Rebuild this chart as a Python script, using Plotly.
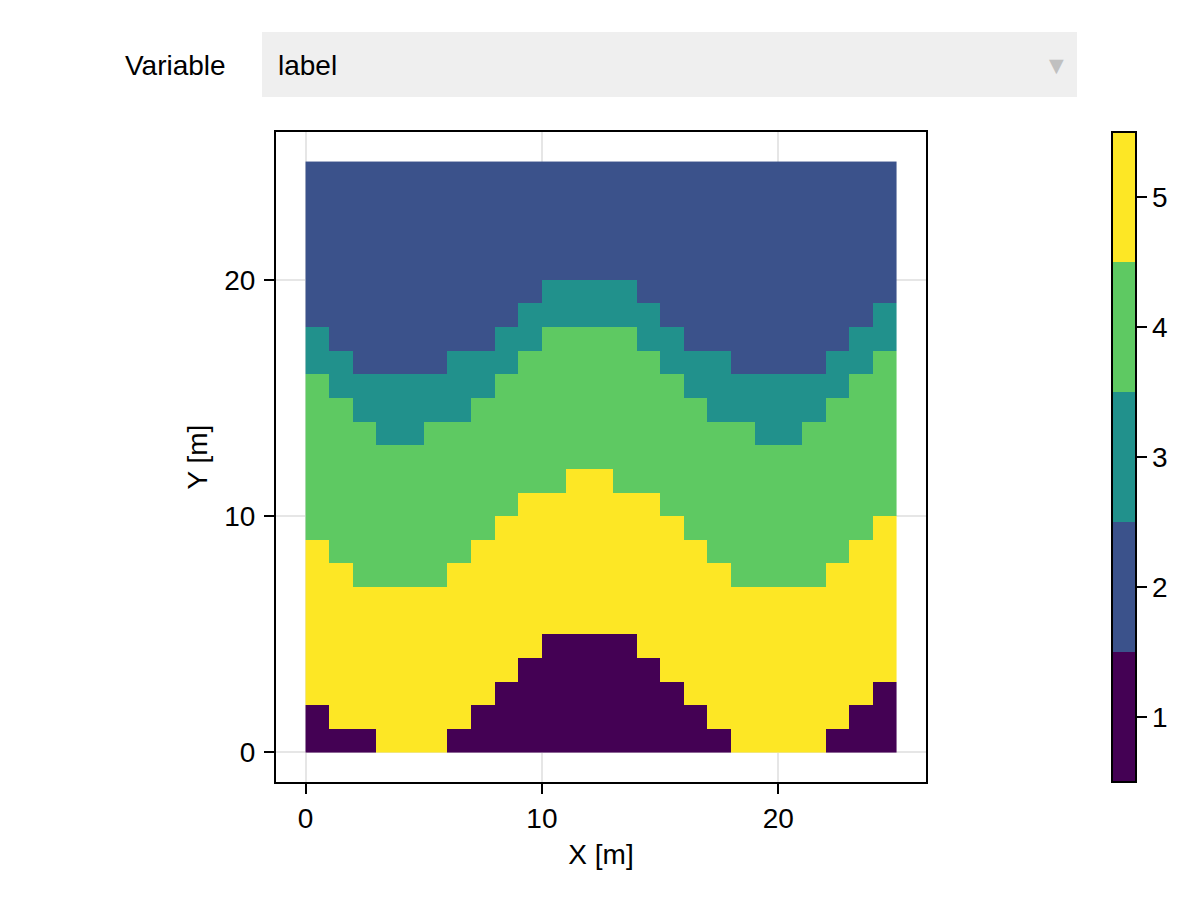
#!/usr/bin/python3

import plotly.graph_objects as go

# top edge of each label band, per column (bands stack upward, last band runs to y_max)
top_label1 = [2, 1, 1, 0, 0, 0, 1, 2, 3, 4, 5, 5, 5, 5, 4, 3, 2, 1, 0, 0, 0, 0, 1, 2, 3]
top_label5 = [9, 8, 7, 7, 7, 7, 8, 9, 10, 11, 11, 12, 12, 11, 11, 10, 9, 8, 7, 7, 7, 7, 8, 9, 10]
top_label4 = [16, 15, 14, 13, 13, 14, 14, 15, 16, 17, 18, 18, 18, 18, 17, 16, 15, 14, 14, 13, 13, 14, 15, 16, 17]
top_label3 = [18, 17, 16, 16, 16, 16, 17, 17, 18, 19, 20, 20, 20, 20, 19, 18, 17, 17, 16, 16, 16, 16, 17, 18, 19]

x_edges = list(range(26))
y_edges = list(range(26))
tick_vals = [0, 10, 20]
label_ticks = [1, 2, 3, 4, 5]
colors = ["#440154", "#3b528b", "#21918c", "#5ec962", "#fde725"]

FONT = "Liberation Sans"
SIZE = 28


def label_at(col, row):
    if row < top_label1[col]:
        return 1
    if row < top_label5[col]:
        return 5
    if row < top_label4[col]:
        return 4
    if row < top_label3[col]:
        return 3
    return 2


z = [[label_at(col, row) for col in range(25)] for row in range(25)]

scale = []
for i, c in enumerate(colors):
    scale.append([i / 5, c])
    scale.append([(i + 1) / 5, c])

fig = go.Figure(go.Heatmap(
    x=x_edges,
    y=y_edges,
    z=z,
    zmin=0.5,
    zmax=5.5,
    colorscale=scale,
    colorbar=dict(
        x=(1112 - 276) / 650,
        xanchor="left",
        xpad=0,
        y=0.5,
        yanchor="middle",
        ypad=0,
        len=1,
        thickness=24,
        outlinecolor="black",
        outlinewidth=2,
        ticks="outside",
        ticklen=10,
        tickwidth=2,
        tickcolor="black",
        tickvals=label_ticks,
        tickfont=dict(family=FONT, size=SIZE, color="black"),
    ),
))

axis = dict(
    tickvals=tick_vals,
    ticks="outside",
    ticklen=10,
    tickwidth=2,
    tickcolor="black",
    showgrid=True,
    gridcolor="#e6e6e6",
    gridwidth=2,
    zeroline=False,
    showline=True,
    linecolor="black",
    linewidth=2,
    mirror=True,
    tickfont=dict(family=FONT, size=SIZE, color="black"),
)

# page body adds 8px around the figure, margins allow for that
fig.update_layout(
    width=1184,
    height=884,
    margin=dict(l=268, r=266, t=124, b=110),
    plot_bgcolor="white",
    paper_bgcolor="white",
    font=dict(family=FONT, size=SIZE, color="black"),
    xaxis=dict(axis, range=[-1.25, 26.25],
               title=dict(text="X [m]", standoff=12, font=dict(size=SIZE))),
    yaxis=dict(axis, range=[-1.25, 26.25], ticklabelstandoff=3,
               title=dict(text="Y [m]", standoff=8, font=dict(size=SIZE))),
    # the menu strip at the top
    shapes=[dict(type="rect", xref="paper", yref="paper",
                 x0=(262 - 276) / 650, x1=(1077 - 276) / 650,
                 y0=(782 - 97) / 650, y1=(782 - 32) / 650,
                 fillcolor="#efefef", line_width=0)],
    annotations=[
        dict(text="Variable", xref="paper", yref="paper", showarrow=False,
             x=(227 - 276) / 650, y=(782 - 65) / 650, xanchor="right", yanchor="middle",
             xshift=1),
        dict(text="label", xref="paper", yref="paper", showarrow=False,
             x=(276 - 276) / 650, y=(782 - 65) / 650, xanchor="left", yanchor="middle"),
        dict(text="▼", xref="paper", yref="paper", showarrow=False,
             x=(1056 - 276) / 650, y=(782 - 65) / 650, xanchor="center", yanchor="middle",
             font=dict(size=25, color="#c0c0c0")),
    ],
)

fig.write_html("out.html")
